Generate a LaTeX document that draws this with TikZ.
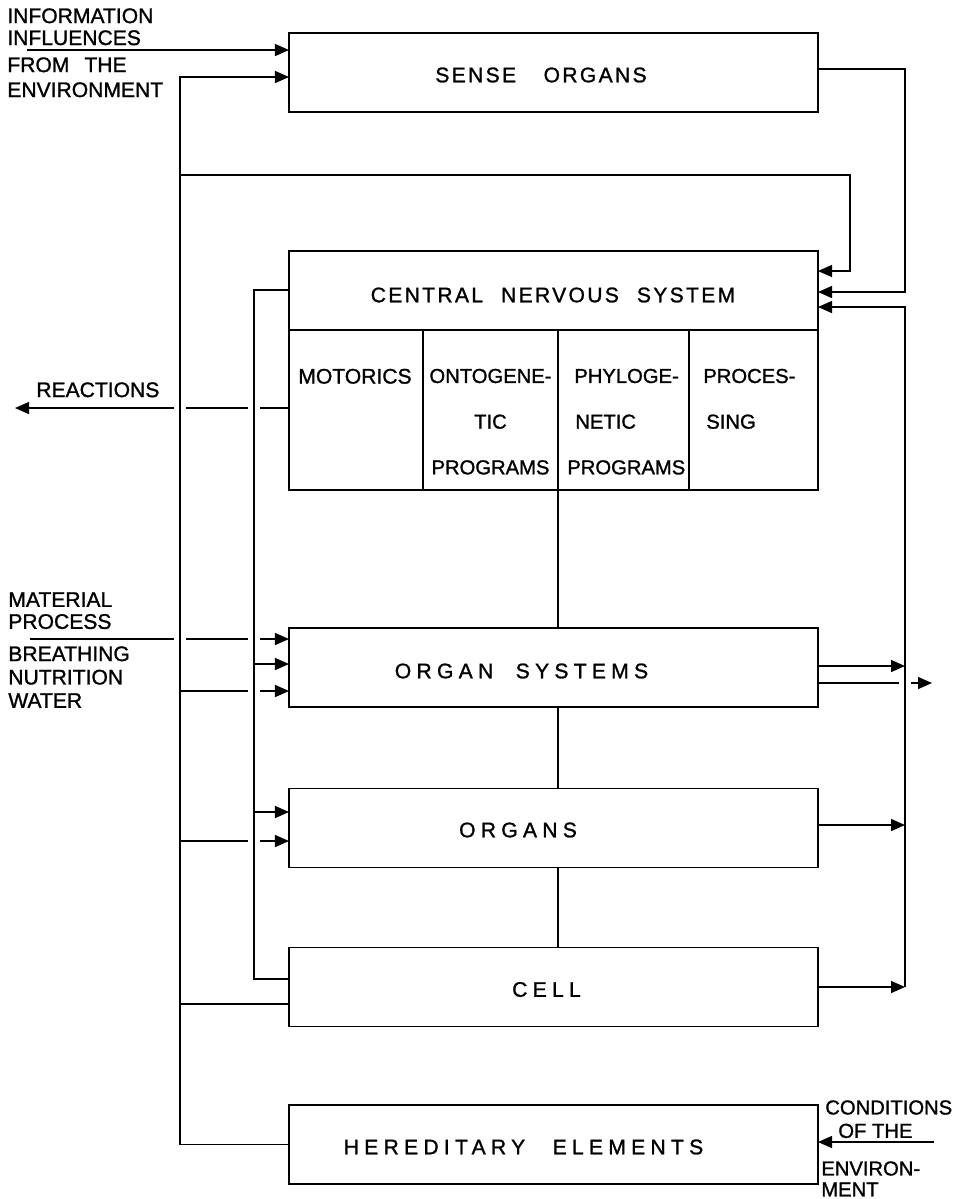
\documentclass[tikz,border=0pt]{standalone}
\usepackage{fontspec}
\setmainfont{Liberation Sans}[FakeBold=1.2]
\newfontfamily\tightfont{Liberation Sans}[LetterSpace=11, FakeBold=1.2]
\newfontfamily\sparsefont{Liberation Sans}[LetterSpace=25, FakeBold=1.2]
\usetikzlibrary{arrows.meta, positioning}

\tikzset{
  blockbox/.style={draw, line width=1pt, inner sep=0pt, outer sep=0pt,
    minimum width=105.8mm, minimum height=15.8mm},
  colbox/.style={draw, line width=1pt, inner sep=0pt, outer sep=0pt,
    minimum height=32mm, anchor=north west},
  tighttitle/.style={inner sep=0pt, font=\fontsize{12}{14}\tightfont},
  sparsetitle/.style={inner sep=0pt, font=\fontsize{12}{14}\sparsefont},
  sidetext/.style={inner sep=0pt, anchor=north west, align=left},
  coltext/.style={inner sep=0pt, anchor=north, align=center,
    font=\fontsize{11.5}{26}\selectfont},
  wire/.style={line width=0.8pt},
  mask/.style={draw=white, line width=7pt}
}

\begin{document}
\begin{tikzpicture}[>={Triangle[length=2.8mm,width=2.4mm]}, x=0.2mm, y=-0.2mm]
  \useasboundingbox (0,0) rectangle (958,1199);

  % blocks
  \node[blockbox] (sense) at (553.5,72.5) {};
  \node[blockbox] (cns) at (553.5,290.5) {};
  \node[colbox, minimum width=26.8mm] (motor) at (cns.south west) {};
  \node[colbox, minimum width=27mm] (onto) at (motor.north east) {};
  \node[colbox, minimum width=26.2mm] (phylo) at (onto.north east) {};
  \node[colbox, minimum width=25.8mm] (proc) at (phylo.north east) {};
  \node[blockbox] (orgsys) at (553.5,667.5) {};
  \node[blockbox] (organs) at (553.5,828) {};
  \node[blockbox] (cell) at (553.5,987) {};
  \node[blockbox] (hered) at (553.5,1144.5) {};

  % titles
  \node[tighttitle] (senseTxt) at (541,75) {SENSE\hspace{5.5mm}ORGANS};
  \node[tighttitle] (cnsTxt) at (553,295) {CENTRAL\hspace{3.6mm}NERVOUS\hspace{3.6mm}SYSTEM};
  \node[sparsetitle] (orgsysTxt) at (521.5,671) {ORGAN\hspace{4.5mm}SYSTEMS};
  \node[sparsetitle] (organsTxt) at (518,830) {ORGANS};
  \node[sparsetitle] (cellTxt) at (546.5,989.5) {CELL};
  \node[sparsetitle] (heredTxt) at (523.5,1147) {HEREDITARY\hspace{5.5mm}ELEMENTS};

  \node[coltext, font=\fontsize{12}{26}\selectfont] (motorTxt) at (355,368.5) {MOTORICS};
  \node[coltext] (ontoTxt) at (490.5,368.5) {ONTOGENE-\\TIC\\PROGRAMS};
  \node[coltext, anchor=north west, align=left] (phyloTxt) at (567,368.5)
    {\hspace{1.4mm}PHYLOGE-\\\hspace{1.6mm}NETIC\\PROGRAMS};
  \node[coltext, anchor=north west, align=left] (procTxt) at (703,368.5)
    {PROCES-\\\hspace{0.6mm}SING};

  % outside labels
  \node[sidetext, font=\fontsize{12}{12.5}\selectfont] (infoA) at (7,8) {INFORMATION\\INFLUENCES};
  \node[sidetext, font=\fontsize{12}{14.2}\selectfont] (infoB) at (7,57) {FROM\hspace{3mm}THE\\ENVIRONMENT};
  \node[sidetext, font=\fontsize{12}{14}\selectfont] (reactTxt) at (36,382) {REACTIONS};
  \node[sidetext, font=\fontsize{12}{12.5}\selectfont] (matA) at (8,592) {MATERIAL\\PROCESS};
  \node[sidetext, font=\fontsize{12}{13.3}\selectfont] (matB) at (8,646) {BREATHING\\NUTRITION\\WATER};
  \node[sidetext, font=\fontsize{11.5}{13.3}\selectfont] (condA) at (825,1100) {CONDITIONS\\\hspace{2.6mm}OF THE};
  \node[sidetext, font=\fontsize{11.5}{11.9}\selectfont] (condB) at (821,1161) {ENVIRON-\\MENT};

  \coordinate (lbusTop) at (180,77);
  \coordinate (ibusTop) at (254,290);
  \coordinate (rbusBot) at (905,987);
  \coordinate (senseLoop) at (905,69);
  \coordinate (topLoop) at (850,175);
  \coordinate (infoIn) at (27,50);
  \coordinate (matIn) at (30,639);
  \coordinate (reactOut) at (15,408);
  \coordinate (osOut) at (932,683);
  \coordinate (condIn) at (934,1142);

  % lines that pass under the buses
  \draw[wire,->] (motor.west |- reactOut) -- (reactOut);
  \draw[wire,->] (matIn) -- (orgsys.west |- matIn);
  \draw[wire,->] (lbusTop |- 0,691) -- (orgsys.west |- 0,691);
  \draw[wire,->] (lbusTop |- 0,841) -- (organs.west |- 0,841);
  \draw[wire,->] (orgsys.east |- osOut) -- (osOut);
  \draw[mask] (lbusTop |- 0,390) -- (lbusTop |- 0,660);
  \draw[mask] (ibusTop |- 0,390) -- (ibusTop |- 0,860);
  \draw[mask] (rbusBot |- 0,676) -- (rbusBot |- 0,690);

  % buses
  \draw[wire,->] (hered.west) -| (lbusTop) -- (sense.west |- lbusTop);
  \draw[wire,->] (lbusTop |- topLoop) -- (topLoop) |- (cns.east |- 0,271);
  \draw[wire] (lbusTop |- 0,1004) -- (cell.west |- 0,1004);
  \draw[wire] (cell.west |- 0,979) -| (ibusTop) -- (cns.west |- ibusTop);
  \draw[wire,->] (ibusTop |- 0,664) -- (orgsys.west |- 0,664);
  \draw[wire,->] (ibusTop |- 0,812) -- (organs.west |- 0,812);
  \draw[wire,->] (sense.east |- senseLoop) -- (senseLoop) |- (cns.east |- 0,292);
  \draw[wire,->] (cell.east |- rbusBot) -- (rbusBot);
  \draw[wire,->] (rbusBot) |- (cns.east |- 0,307);
  \draw[wire,->] (orgsys.east |- 0,666) -- (rbusBot |- 0,666);
  \draw[wire,->] (organs.east |- 0,825) -- (rbusBot |- 0,825);
  \draw[wire,->] (infoIn) -- (sense.west |- infoIn);
  \draw[wire,->] (condIn) -- (hered.east |- condIn);

  % spine
  \draw[wire] (onto.south east) -- (orgsys.north -| onto.south east);
  \draw[wire] (orgsys.south -| onto.south east) -- (organs.north -| onto.south east);
  \draw[wire] (organs.south -| onto.south east) -- (cell.north -| onto.south east);
\end{tikzpicture}
\end{document}
